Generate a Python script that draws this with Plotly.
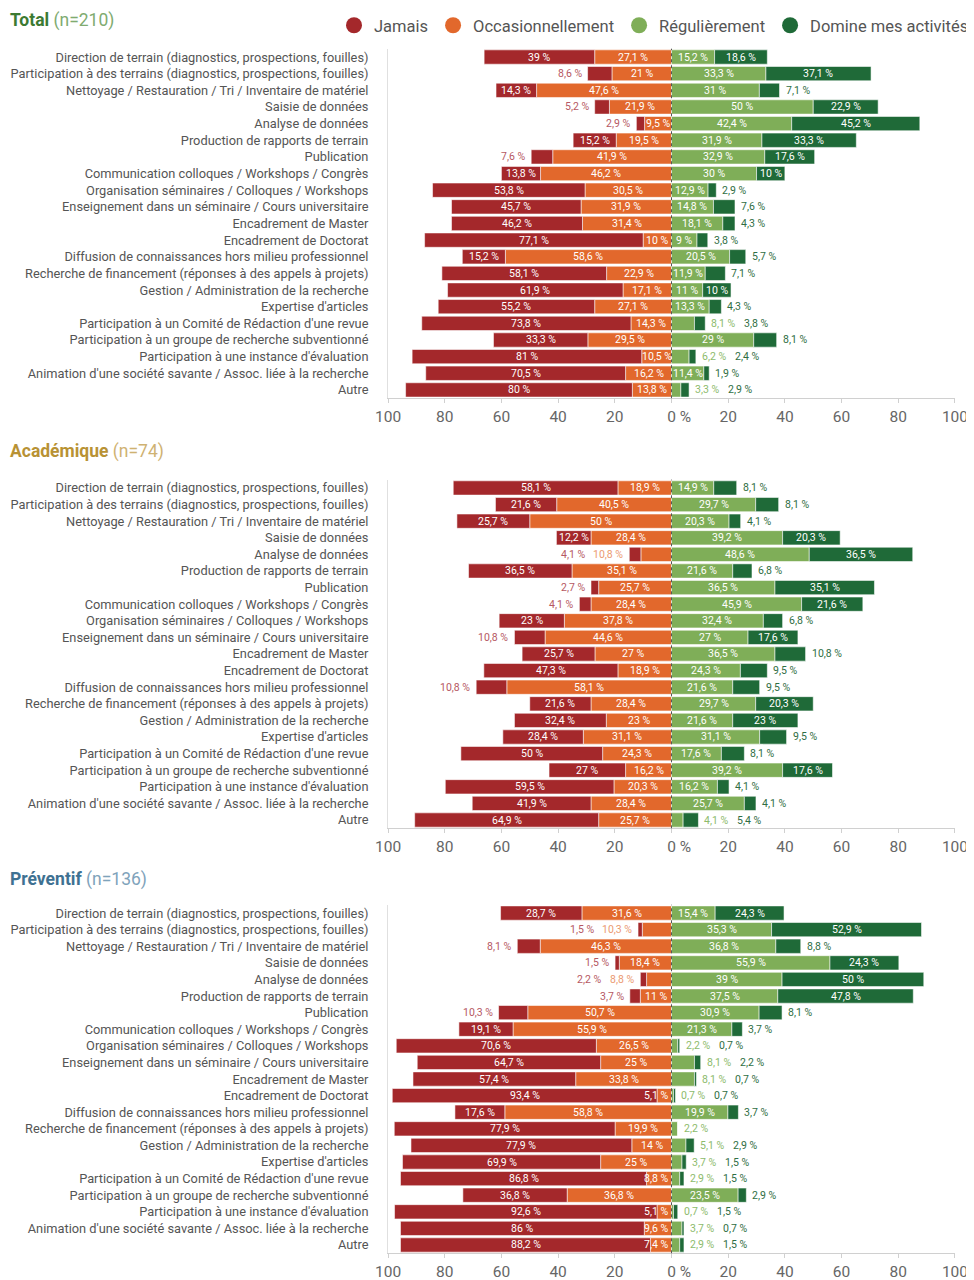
import plotly.graph_objects as go

categories = [
    "Direction de terrain (diagnostics, prospections, fouilles)",
    "Participation à des terrains (diagnostics, prospections, fouilles)",
    "Nettoyage / Restauration / Tri / Inventaire de matériel",
    "Saisie de données",
    "Analyse de données",
    "Production de rapports de terrain",
    "Publication",
    "Communication colloques / Workshops / Congrès",
    "Organisation séminaires / Colloques / Workshops",
    "Enseignement dans un séminaire / Cours universitaire",
    "Encadrement de Master",
    "Encadrement de Doctorat",
    "Diffusion de connaissances hors milieu professionnel",
    "Recherche de financement (réponses à des appels à projets)",
    "Gestion / Administration de la recherche",
    "Expertise d'articles",
    "Participation à un Comité de Rédaction d'une revue",
    "Participation à un groupe de recherche subventionné",
    "Participation à une instance d'évaluation",
    "Animation d'une société savante / Assoc. liée à la recherche",
    "Autre",
]

series_names = ["Jamais", "Occasionnellement", "Régulièrement", "Domine mes activités"]

panel_names = ["Total", "Académique", "Préventif"]
panel_n = [210, 74, 136]

# Total (n=210)
total_jamais = [39, 8.6, 14.3, 5.2, 2.9, 15.2, 7.6, 13.8, 53.8, 45.7, 46.2, 77.1, 15.2, 58.1, 61.9, 55.2, 73.8, 33.3, 81, 70.5, 80]
total_occas = [27.1, 21, 47.6, 21.9, 9.5, 19.5, 41.9, 46.2, 30.5, 31.9, 31.4, 10, 58.6, 22.9, 17.1, 27.1, 14.3, 29.5, 10.5, 16.2, 13.8]
total_regul = [15.2, 33.3, 31, 50, 42.4, 31.9, 32.9, 30, 12.9, 14.8, 18.1, 9, 20.5, 11.9, 11, 13.3, 8.1, 29, 6.2, 11.4, 3.3]
total_domine = [18.6, 37.1, 7.1, 22.9, 45.2, 33.3, 17.6, 10, 2.9, 7.6, 4.3, 3.8, 5.7, 7.1, 10, 4.3, 3.8, 8.1, 2.4, 1.9, 2.9]

# Académique (n=74)
acad_jamais = [58.1, 21.6, 25.7, 12.2, 4.1, 36.5, 2.7, 4.1, 23, 10.8, 25.7, 47.3, 10.8, 21.6, 32.4, 28.4, 50, 27, 59.5, 41.9, 64.9]
acad_occas = [18.9, 40.5, 50, 28.4, 10.8, 35.1, 25.7, 28.4, 37.8, 44.6, 27, 18.9, 58.1, 28.4, 23, 31.1, 24.3, 16.2, 20.3, 28.4, 25.7]
acad_regul = [14.9, 29.7, 20.3, 39.2, 48.6, 21.6, 36.5, 45.9, 32.4, 27, 36.5, 24.3, 21.6, 29.7, 21.6, 31.1, 17.6, 39.2, 16.2, 25.7, 4.1]
acad_domine = [8.1, 8.1, 4.1, 20.3, 36.5, 6.8, 35.1, 21.6, 6.8, 17.6, 10.8, 9.5, 9.5, 20.3, 23, 9.5, 8.1, 17.6, 4.1, 4.1, 5.4]

# Préventif (n=136)
prev_jamais = [28.7, 1.5, 8.1, 1.5, 2.2, 3.7, 10.3, 19.1, 70.6, 64.7, 57.4, 93.4, 17.6, 77.9, 77.9, 69.9, 86.8, 36.8, 92.6, 86, 88.2]
prev_occas = [31.6, 10.3, 46.3, 18.4, 8.8, 11, 50.7, 55.9, 26.5, 25, 33.8, 5.1, 58.8, 19.9, 14, 25, 8.8, 36.8, 5.1, 9.6, 7.4]
prev_regul = [15.4, 35.3, 36.8, 55.9, 39, 37.5, 30.9, 21.3, 2.2, 8.1, 8.1, 0.7, 19.9, 2.2, 5.1, 3.7, 2.9, 23.5, 0.7, 3.7, 2.9]
prev_domine = [24.3, 52.9, 8.8, 24.3, 50, 47.8, 8.1, 3.7, 0.7, 2.2, 0.7, 0.7, 3.7, 0, 2.9, 1.5, 1.5, 2.9, 1.5, 0.7, 1.5]

x_tick_vals = [-100, -80, -60, -40, -20, 0, 20, 40, 60, 80, 100]
x_tick_text = ["100", "80", "60", "40", "20", "\u00a0\u00a0\u00a0\u00a00 %", "20", "40", "60", "80", "100"]

panels = [
    (total_jamais, total_occas, total_regul, total_domine),
    (acad_jamais, acad_occas, acad_regul, acad_domine),
    (prev_jamais, prev_occas, prev_regul, prev_domine),
]

# ---- styles ----
FONT = "Roboto, 'Open Sans', sans-serif"
C_J, C_O, C_R, C_D = "#a4282b", "#e2682c", "#7fae58", "#1f6a38"
OUT_J, OUT_O, OUT_R, OUT_D = "#b65863", "#eb9a72", "#8dbb6c", "#2f6e44"
TITLE_COLORS = [("#3c7a32", "#80ab70"), ("#b89234", "#cfb272"), ("#3e7192", "#7fa3bb")]
THRESH = [9, 11, 11]
# page body has an 8px margin: figure is sized/positioned to compensate
W, H = 966, 1272
Y_DOMAINS = [(0.6932, 0.9680), (0.3551, 0.6292), (0.0210, 0.2950)]
TITLE_Y = [0.9898, 0.6517, 0.3145]
X_DOMAIN = (0.3934, 0.9803)
LABEL_SIZE = 10.5


def fmt(v):
    return ("%g" % v).replace(".", ",") + " %"


def text_w(s):
    return len(s) * 5.4


fig = go.Figure()
annotations = []
shapes = []

for p, (jam, occ, reg, dom) in enumerate(panels):
    xa = "x" if p == 0 else f"x{p+1}"
    ya = "y" if p == 0 else f"y{p+1}"
    line = dict(color="rgba(255,255,255,0.55)", width=1)
    # order for relative stacking: nearest to zero first
    fig.add_trace(go.Bar(y=categories, x=[-v for v in occ], orientation="h", marker=dict(color=C_O, line=line),
                         xaxis=xa, yaxis=ya, showlegend=False, hoverinfo="skip"))
    fig.add_trace(go.Bar(y=categories, x=[-v for v in jam], orientation="h", marker=dict(color=C_J, line=line),
                         xaxis=xa, yaxis=ya, showlegend=False, hoverinfo="skip"))
    fig.add_trace(go.Bar(y=categories, x=reg, orientation="h", marker=dict(color=C_R, line=line),
                         xaxis=xa, yaxis=ya, showlegend=False, hoverinfo="skip"))
    fig.add_trace(go.Bar(y=categories, x=dom, orientation="h", marker=dict(color=C_D, line=line),
                         xaxis=xa, yaxis=ya, showlegend=False, hoverinfo="skip"))

    thr = THRESH[p]

    def ann(x, y, text, color, xanchor="center", xshift=0):
        annotations.append(dict(x=x, y=y, xref=xa, yref=ya, text=text, showarrow=False,
                                xanchor=xanchor, yanchor="middle", xshift=xshift,
                                font=dict(family=FONT, size=LABEL_SIZE, color=color)))

    for i, cat in enumerate(categories):
        J, O, R, D = jam[i], occ[i], reg[i], dom[i]
        # ---- left side ----
        left_end = -(J + O)
        out_shift = -4
        if O >= thr:
            ann(-O / 2, cat, fmt(O), "white")
        elif J >= thr:
            ann(0, cat, fmt(O), "white", xanchor="right", xshift=-1)
        else:
            ann(left_end, cat, fmt(O), OUT_O, xanchor="right", xshift=out_shift)
            out_shift -= text_w(fmt(O)) + 6
        if J >= thr:
            ann(-O - J / 2, cat, fmt(J), "white")
        elif J > 0:
            ann(left_end, cat, fmt(J), OUT_J, xanchor="right", xshift=out_shift)
        # ---- right side ----
        right_end = R + D
        out_shift = 4
        if R >= thr:
            ann(R / 2, cat, fmt(R), "white")
        elif R > 0:
            ann(right_end, cat, fmt(R), OUT_R, xanchor="left", xshift=out_shift)
            out_shift += text_w(fmt(R)) + 6
        if D >= thr:
            ann(R + D / 2, cat, fmt(D), "white")
        elif D > 0:
            ann(right_end, cat, fmt(D), OUT_D, xanchor="left", xshift=out_shift)

    # center dashed line
    shapes.append(dict(type="line", xref=xa, yref=f"{ya} domain", x0=0, x1=0, y0=0, y1=1,
                       line=dict(color="#555", width=1, dash="dot"), layer="above"))

    # panel title
    c1, c2 = TITLE_COLORS[p]
    annotations.append(dict(x=0.0, y=TITLE_Y[p], xref="paper", yref="paper", showarrow=False,
                            xanchor="left", yanchor="middle",
                            text=f"<b>{panel_names[p]}</b> <span style='color:{c2}'>(n={panel_n[p]})</span>",
                            font=dict(family=FONT, size=17.5, color=c1)))

# legend entries
for name, col in zip(series_names, [C_J, C_O, C_R, C_D]):
    fig.add_trace(go.Scatter(x=[None], y=[None], mode="markers", name=name,
                             marker=dict(color=col, size=18, symbol="circle"), xaxis="x", yaxis="y"))

layout = dict(
    template="none",
    width=W, height=H,
    margin=dict(l=0, r=0, t=0, b=0, autoexpand=False),
    paper_bgcolor="white", plot_bgcolor="white",
    barmode="relative", bargap=0.14,
    font=dict(family=FONT, color="#555"),
    annotations=annotations, shapes=shapes,
    showlegend=True,
    legend=dict(orientation="h", x=1.0, xanchor="right", y=1.0, yanchor="top",
                bgcolor="rgba(0,0,0,0)",
                font=dict(family=FONT, size=16.5, color="#555"), itemclick=False, traceorder="normal"),
)
for p in range(3):
    xk = "xaxis" if p == 0 else f"xaxis{p+1}"
    yk = "yaxis" if p == 0 else f"yaxis{p+1}"
    ya = "y" if p == 0 else f"y{p+1}"
    xa = "x" if p == 0 else f"x{p+1}"
    layout[xk] = dict(domain=list(X_DOMAIN), anchor=ya, range=[-100, 100], tickvals=x_tick_vals,
                      ticktext=x_tick_text, showgrid=False, zeroline=False, showline=True, automargin=False,
                      linecolor="#d0d0d0", linewidth=1, ticks="outside", ticklen=4, tickcolor="#d0d0d0",
                      tickfont=dict(family=FONT, size=15.5, color="#666"), fixedrange=True)
    layout[yk] = dict(domain=list(Y_DOMAINS[p]), anchor=xa, type="category", automargin=False,
                      categoryorder="array", categoryarray=categories, range=[20.5, -0.5],
                      showgrid=False, zeroline=False, showline=True, linecolor="#e0e0e0", linewidth=1,
                      ticks="", ticklabelstandoff=16,
                      tickfont=dict(family=FONT, size=12.8, color="#555"), fixedrange=True)

fig.update_layout(**layout)
fig.write_html("out.html")
